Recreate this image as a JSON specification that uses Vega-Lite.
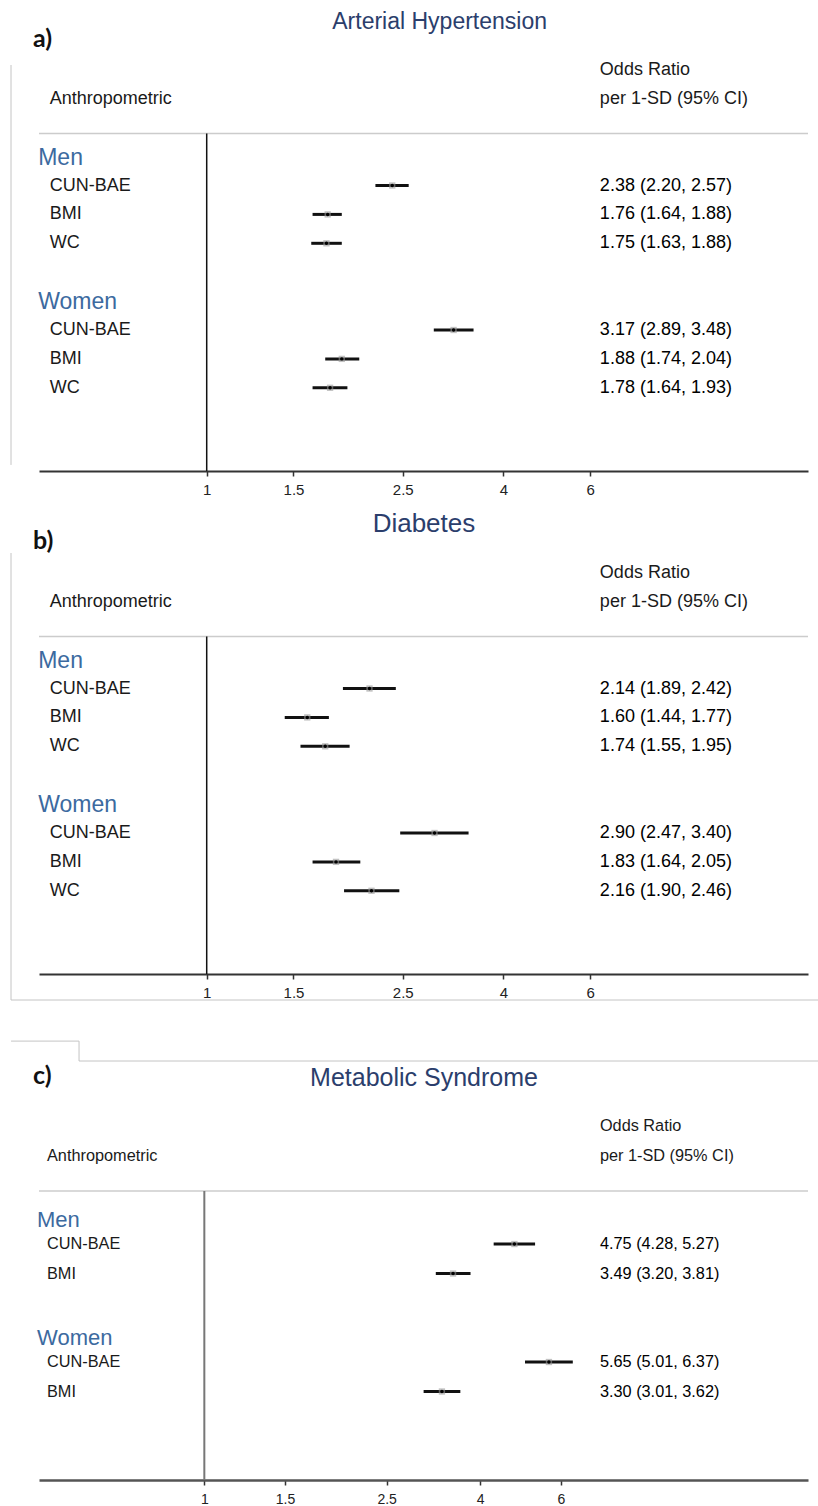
{
  "$schema": "https://vega.github.io/schema/vega-lite/v6.json",
  "background": "white",
  "padding": {"left": 10, "top": 0, "right": 0, "bottom": 0},
  "spacing": 32,
  "bounds": "flush",
  "config": {"view": {"stroke": null}, "font": "Liberation Sans"},
  "datasets": {
    "est": [
      {"panel": "a", "sex": "Men", "measure": "CUN-BAE", "row": 1, "or": 2.38, "lo": 2.20, "hi": 2.57, "ci": "2.38 (2.20, 2.57)"},
      {"panel": "a", "sex": "Men", "measure": "BMI", "row": 2, "or": 1.76, "lo": 1.64, "hi": 1.88, "ci": "1.76 (1.64, 1.88)"},
      {"panel": "a", "sex": "Men", "measure": "WC", "row": 3, "or": 1.75, "lo": 1.63, "hi": 1.88, "ci": "1.75 (1.63, 1.88)"},
      {"panel": "a", "sex": "Women", "measure": "CUN-BAE", "row": 6, "or": 3.17, "lo": 2.89, "hi": 3.48, "ci": "3.17 (2.89, 3.48)"},
      {"panel": "a", "sex": "Women", "measure": "BMI", "row": 7, "or": 1.88, "lo": 1.74, "hi": 2.04, "ci": "1.88 (1.74, 2.04)"},
      {"panel": "a", "sex": "Women", "measure": "WC", "row": 8, "or": 1.78, "lo": 1.64, "hi": 1.93, "ci": "1.78 (1.64, 1.93)"},
      {"panel": "b", "sex": "Men", "measure": "CUN-BAE", "row": 1, "or": 2.14, "lo": 1.89, "hi": 2.42, "ci": "2.14 (1.89, 2.42)"},
      {"panel": "b", "sex": "Men", "measure": "BMI", "row": 2, "or": 1.60, "lo": 1.44, "hi": 1.77, "ci": "1.60 (1.44, 1.77)"},
      {"panel": "b", "sex": "Men", "measure": "WC", "row": 3, "or": 1.74, "lo": 1.55, "hi": 1.95, "ci": "1.74 (1.55, 1.95)"},
      {"panel": "b", "sex": "Women", "measure": "CUN-BAE", "row": 6, "or": 2.90, "lo": 2.47, "hi": 3.40, "ci": "2.90 (2.47, 3.40)"},
      {"panel": "b", "sex": "Women", "measure": "BMI", "row": 7, "or": 1.83, "lo": 1.64, "hi": 2.05, "ci": "1.83 (1.64, 2.05)"},
      {"panel": "b", "sex": "Women", "measure": "WC", "row": 8, "or": 2.16, "lo": 1.90, "hi": 2.46, "ci": "2.16 (1.90, 2.46)"},
      {"panel": "c", "sex": "Men", "measure": "CUN-BAE", "row": 1, "or": 4.75, "lo": 4.28, "hi": 5.27, "ci": "4.75 (4.28, 5.27)"},
      {"panel": "c", "sex": "Men", "measure": "BMI", "row": 2, "or": 3.49, "lo": 3.20, "hi": 3.81, "ci": "3.49 (3.20, 3.81)"},
      {"panel": "c", "sex": "Women", "measure": "CUN-BAE", "row": 5, "or": 5.65, "lo": 5.01, "hi": 6.37, "ci": "5.65 (5.01, 6.37)"},
      {"panel": "c", "sex": "Women", "measure": "BMI", "row": 6, "or": 3.30, "lo": 3.01, "hi": 3.62, "ci": "3.30 (3.01, 3.62)"}
    ],
    "grp": [
      {"panel": "a", "group": "Men", "row": 0},
      {"panel": "a", "group": "Women", "row": 5},
      {"panel": "b", "group": "Men", "row": 0},
      {"panel": "b", "group": "Women", "row": 5},
      {"panel": "c", "group": "Men", "row": 0},
      {"panel": "c", "group": "Women", "row": 4}
    ]
  },
  "vconcat": [
    {
      "width": 769, "height": 471,
      "layer": [
        {"data": {"values": [{}]}, "mark": {"type": "rule", "color": "#cccccc", "strokeWidth": 1.5},
         "encoding": {"x": {"datum": 0.4567, "type": "quantitative", "scale": {"type": "log", "domain": [0.4567, 16.61], "nice": false}, "axis": {"values": [1, 1.5, 2.5, 4, 6], "format": "~g", "title": null, "grid": false, "domainColor": "#333333", "domainWidth": 2, "tickColor": "#333333", "tickSize": 5, "tickWidth": 1.5, "labelFontSize": 15, "labelPadding": 6, "labelColor": "#222222", "labelFont": "Liberation Sans", "labelFlush": false, "labelOverlap": false}},
                      "x2": {"datum": 16.61},
                      "y": {"datum": -0.8, "type": "quantitative", "scale": {"domain": [-5.42, 10.88], "reverse": true, "nice": false, "zero": false}, "axis": null}}},
        {"data": {"values": [{}]}, "mark": {"type": "rule", "color": "#c4c4c4", "strokeWidth": 1},
         "encoding": {"x": {"datum": 0.4007, "type": "quantitative"},
                      "y": {"datum": -3.17, "type": "quantitative"},
                      "y2": {"datum": 10.67}}},
        {"data": {"values": [{}]}, "mark": {"type": "rule", "color": "#111111", "strokeWidth": 1.5},
         "encoding": {"x": {"datum": 1, "type": "quantitative"},
                      "y": {"datum": -0.8, "type": "quantitative"},
                      "y2": {"datum": 10.88}}},
        {"data": {"name": "est"}, "transform": [{"filter": "datum.panel === 'a'"}],
         "mark": {"type": "rule", "color": "#111111", "strokeWidth": 3},
         "encoding": {"x": {"field": "lo", "type": "quantitative"}, "x2": {"field": "hi"}, "y": {"field": "row", "type": "quantitative"}}},
        {"data": {"name": "est"}, "transform": [{"filter": "datum.panel === 'a'"}],
         "mark": {"type": "point", "shape": "square", "filled": true, "color": "#999999", "opacity": 0.6, "size": 40},
         "encoding": {"x": {"field": "or", "type": "quantitative"}, "y": {"field": "row", "type": "quantitative"}}},
        {"data": {"name": "est"}, "transform": [{"filter": "datum.panel === 'a'"}],
         "mark": {"type": "point", "shape": "circle", "filled": true, "color": "#000000", "opacity": 1, "size": 12},
         "encoding": {"x": {"field": "or", "type": "quantitative"}, "y": {"field": "row", "type": "quantitative"}}},
        {"data": {"name": "est"}, "transform": [{"filter": "datum.panel === 'a'"}],
         "mark": {"type": "text", "align": "left", "baseline": "middle", "fontSize": 18, "color": "#1a1a1a"},
         "encoding": {"x": {"datum": 0.48, "type": "quantitative"}, "y": {"field": "row", "type": "quantitative"}, "text": {"field": "measure"}}},
        {"data": {"name": "est"}, "transform": [{"filter": "datum.panel === 'a'"}],
         "mark": {"type": "text", "align": "left", "baseline": "middle", "fontSize": 18, "color": "#000000"},
         "encoding": {"x": {"datum": 6.28, "type": "quantitative"}, "y": {"field": "row", "type": "quantitative"}, "text": {"field": "ci"}}},
        {"data": {"name": "grp"}, "transform": [{"filter": "datum.panel === 'a'"}],
         "mark": {"type": "text", "align": "left", "baseline": "middle", "fontSize": 23, "color": "#3c6a9f", "dy": 1},
         "encoding": {"x": {"datum": 0.455, "type": "quantitative"}, "y": {"field": "row", "type": "quantitative"}, "text": {"field": "group"}}},
        {"data": {"values": [{}]}, "mark": {"type": "text", "text": "Arterial Hypertension", "align": "center", "baseline": "middle", "fontSize": 23, "color": "#2b3e6c"},
         "encoding": {"x": {"datum": 2.97, "type": "quantitative"}, "y": {"datum": -4.66, "type": "quantitative"}}},
        {"data": {"values": [{}]}, "mark": {"type": "text", "text": "a)", "align": "left", "baseline": "middle", "fontSize": 25, "font": "Lato", "fontWeight": "bold", "color": "#111111"},
         "encoding": {"x": {"datum": 0.444, "type": "quantitative"}, "y": {"datum": -4.07, "type": "quantitative"}}},
        {"data": {"values": [{}]}, "mark": {"type": "text", "text": "Odds Ratio", "align": "left", "baseline": "middle", "fontSize": 18, "color": "#1a1a1a"},
         "encoding": {"x": {"datum": 6.28, "type": "quantitative"}, "y": {"datum": -3, "type": "quantitative"}}},
        {"data": {"values": [{}]}, "mark": {"type": "text", "text": "per 1-SD (95% CI)", "align": "left", "baseline": "middle", "fontSize": 18, "color": "#1a1a1a"},
         "encoding": {"x": {"datum": 6.28, "type": "quantitative"}, "y": {"datum": -2, "type": "quantitative"}}},
        {"data": {"values": [{}]}, "mark": {"type": "text", "text": "Anthropometric", "align": "left", "baseline": "middle", "fontSize": 18, "color": "#1a1a1a"},
         "encoding": {"x": {"datum": 0.48, "type": "quantitative"}, "y": {"datum": -2, "type": "quantitative"}}}
      ]
    },
    {
      "width": 769, "height": 471,
      "layer": [
        {"data": {"values": [{}]}, "mark": {"type": "rule", "color": "#cccccc", "strokeWidth": 1.5},
         "encoding": {"x": {"datum": 0.4567, "type": "quantitative", "scale": {"type": "log", "domain": [0.4567, 16.61], "nice": false}, "axis": {"values": [1, 1.5, 2.5, 4, 6], "format": "~g", "title": null, "grid": false, "domainColor": "#333333", "domainWidth": 2, "tickColor": "#333333", "tickSize": 5, "tickWidth": 1.5, "labelFontSize": 15, "labelPadding": 6, "labelColor": "#222222", "labelFont": "Liberation Sans", "labelFlush": false, "labelOverlap": false}},
                      "x2": {"datum": 16.61},
                      "y": {"datum": -0.8, "type": "quantitative", "scale": {"domain": [-5.42, 10.88], "reverse": true, "nice": false, "zero": false}, "axis": null}}},
        {"data": {"values": [{}]}, "mark": {"type": "rule", "color": "#c4c4c4", "strokeWidth": 1},
         "encoding": {"x": {"datum": 0.4007, "type": "quantitative"},
                      "y": {"datum": -3.69, "type": "quantitative"},
                      "y2": {"datum": 11.78}}},
        {"data": {"values": [{}]}, "mark": {"type": "rule", "color": "#c4c4c4", "strokeWidth": 1},
         "encoding": {"x": {"datum": 0.4007, "type": "quantitative"},
                      "x2": {"datum": 17.48},
                      "y": {"datum": 11.78, "type": "quantitative"}}},
        {"data": {"values": [{}]}, "mark": {"type": "rule", "color": "#111111", "strokeWidth": 1.5},
         "encoding": {"x": {"datum": 1, "type": "quantitative"},
                      "y": {"datum": -0.8, "type": "quantitative"},
                      "y2": {"datum": 10.88}}},
        {"data": {"name": "est"}, "transform": [{"filter": "datum.panel === 'b'"}],
         "mark": {"type": "rule", "color": "#111111", "strokeWidth": 3},
         "encoding": {"x": {"field": "lo", "type": "quantitative"}, "x2": {"field": "hi"}, "y": {"field": "row", "type": "quantitative"}}},
        {"data": {"name": "est"}, "transform": [{"filter": "datum.panel === 'b'"}],
         "mark": {"type": "point", "shape": "square", "filled": true, "color": "#999999", "opacity": 0.6, "size": 40},
         "encoding": {"x": {"field": "or", "type": "quantitative"}, "y": {"field": "row", "type": "quantitative"}}},
        {"data": {"name": "est"}, "transform": [{"filter": "datum.panel === 'b'"}],
         "mark": {"type": "point", "shape": "circle", "filled": true, "color": "#000000", "opacity": 1, "size": 12},
         "encoding": {"x": {"field": "or", "type": "quantitative"}, "y": {"field": "row", "type": "quantitative"}}},
        {"data": {"name": "est"}, "transform": [{"filter": "datum.panel === 'b'"}],
         "mark": {"type": "text", "align": "left", "baseline": "middle", "fontSize": 18, "color": "#1a1a1a"},
         "encoding": {"x": {"datum": 0.48, "type": "quantitative"}, "y": {"field": "row", "type": "quantitative"}, "text": {"field": "measure"}}},
        {"data": {"name": "est"}, "transform": [{"filter": "datum.panel === 'b'"}],
         "mark": {"type": "text", "align": "left", "baseline": "middle", "fontSize": 18, "color": "#000000"},
         "encoding": {"x": {"datum": 6.28, "type": "quantitative"}, "y": {"field": "row", "type": "quantitative"}, "text": {"field": "ci"}}},
        {"data": {"name": "grp"}, "transform": [{"filter": "datum.panel === 'b'"}],
         "mark": {"type": "text", "align": "left", "baseline": "middle", "fontSize": 23, "color": "#3c6a9f", "dy": 1},
         "encoding": {"x": {"datum": 0.455, "type": "quantitative"}, "y": {"field": "row", "type": "quantitative"}, "text": {"field": "group"}}},
        {"data": {"values": [{}]}, "mark": {"type": "text", "text": "Diabetes", "align": "center", "baseline": "middle", "fontSize": 26, "color": "#2b3e6c"},
         "encoding": {"x": {"datum": 2.76, "type": "quantitative"}, "y": {"datum": -4.69, "type": "quantitative"}}},
        {"data": {"values": [{}]}, "mark": {"type": "text", "text": "b)", "align": "left", "baseline": "middle", "fontSize": 25, "font": "Lato", "fontWeight": "bold", "color": "#111111"},
         "encoding": {"x": {"datum": 0.444, "type": "quantitative"}, "y": {"datum": -4.1, "type": "quantitative"}}},
        {"data": {"values": [{}]}, "mark": {"type": "text", "text": "Odds Ratio", "align": "left", "baseline": "middle", "fontSize": 18, "color": "#1a1a1a"},
         "encoding": {"x": {"datum": 6.28, "type": "quantitative"}, "y": {"datum": -3, "type": "quantitative"}}},
        {"data": {"values": [{}]}, "mark": {"type": "text", "text": "per 1-SD (95% CI)", "align": "left", "baseline": "middle", "fontSize": 18, "color": "#1a1a1a"},
         "encoding": {"x": {"datum": 6.28, "type": "quantitative"}, "y": {"datum": -2, "type": "quantitative"}}},
        {"data": {"values": [{}]}, "mark": {"type": "text", "text": "Anthropometric", "align": "left", "baseline": "middle", "fontSize": 18, "color": "#1a1a1a"},
         "encoding": {"x": {"datum": 0.48, "type": "quantitative"}, "y": {"datum": -2, "type": "quantitative"}}}
      ]
    },
    {
      "width": 769, "height": 474,
      "layer": [
        {"data": {"values": [{}]}, "mark": {"type": "rule", "color": "#cccccc", "strokeWidth": 1.5},
         "encoding": {"x": {"datum": 0.4357, "type": "quantitative", "scale": {"type": "log", "domain": [0.4357, 20.77], "nice": false}, "axis": {"values": [1, 1.5, 2.5, 4, 6], "format": "~g", "title": null, "grid": false, "domainColor": "#555555", "domainWidth": 2.5, "tickColor": "#333333", "tickSize": 5, "tickWidth": 1.5, "labelFontSize": 14, "labelPadding": 7, "labelColor": "#222222", "labelFont": "Liberation Sans", "labelFlush": false, "labelOverlap": false}},
                      "x2": {"datum": 20.77},
                      "y": {"datum": -0.8, "type": "quantitative", "scale": {"domain": [-7.07, 9.0], "reverse": true, "nice": false, "zero": false}, "axis": null}}},
        {"data": {"values": [{}]}, "mark": {"type": "rule", "color": "#c4c4c4", "strokeWidth": 1},
         "encoding": {"x": {"datum": 0.3786, "type": "quantitative"},
                      "x2": {"datum": 0.5328},
                      "y": {"datum": -5.88, "type": "quantitative"}}},
        {"data": {"values": [{}]}, "mark": {"type": "rule", "color": "#c4c4c4", "strokeWidth": 1},
         "encoding": {"x": {"datum": 0.5328, "type": "quantitative"},
                      "y": {"datum": -5.88, "type": "quantitative"},
                      "y2": {"datum": -5.205}}},
        {"data": {"values": [{}]}, "mark": {"type": "rule", "color": "#c4c4c4", "strokeWidth": 1},
         "encoding": {"x": {"datum": 0.5328, "type": "quantitative"},
                      "x2": {"datum": 21.95},
                      "y": {"datum": -5.205, "type": "quantitative"}}},
        {"data": {"values": [{}]}, "mark": {"type": "rule", "color": "#777777", "strokeWidth": 2},
         "encoding": {"x": {"datum": 1, "type": "quantitative"},
                      "y": {"datum": -0.8, "type": "quantitative"},
                      "y2": {"datum": 9.0}}},
        {"data": {"name": "est"}, "transform": [{"filter": "datum.panel === 'c'"}],
         "mark": {"type": "rule", "color": "#111111", "strokeWidth": 3},
         "encoding": {"x": {"field": "lo", "type": "quantitative"}, "x2": {"field": "hi"}, "y": {"field": "row", "type": "quantitative"}}},
        {"data": {"name": "est"}, "transform": [{"filter": "datum.panel === 'c'"}],
         "mark": {"type": "point", "shape": "square", "filled": true, "color": "#999999", "opacity": 0.6, "size": 40},
         "encoding": {"x": {"field": "or", "type": "quantitative"}, "y": {"field": "row", "type": "quantitative"}}},
        {"data": {"name": "est"}, "transform": [{"filter": "datum.panel === 'c'"}],
         "mark": {"type": "point", "shape": "circle", "filled": true, "color": "#000000", "opacity": 1, "size": 12},
         "encoding": {"x": {"field": "or", "type": "quantitative"}, "y": {"field": "row", "type": "quantitative"}}},
        {"data": {"name": "est"}, "transform": [{"filter": "datum.panel === 'c'"}],
         "mark": {"type": "text", "align": "left", "baseline": "middle", "fontSize": 16.3, "color": "#1a1a1a"},
         "encoding": {"x": {"datum": 0.4536, "type": "quantitative"}, "y": {"field": "row", "type": "quantitative"}, "text": {"field": "measure"}}},
        {"data": {"name": "est"}, "transform": [{"filter": "datum.panel === 'c'"}],
         "mark": {"type": "text", "align": "left", "baseline": "middle", "fontSize": 16.3, "color": "#000000"},
         "encoding": {"x": {"datum": 7.3, "type": "quantitative"}, "y": {"field": "row", "type": "quantitative"}, "text": {"field": "ci"}}},
        {"data": {"name": "grp"}, "transform": [{"filter": "datum.panel === 'c'"}],
         "mark": {"type": "text", "align": "left", "baseline": "middle", "fontSize": 22, "color": "#3c6a9f", "dy": 5},
         "encoding": {"x": {"datum": 0.4314, "type": "quantitative"}, "y": {"field": "row", "type": "quantitative"}, "text": {"field": "group"}}},
        {"data": {"values": [{}]}, "mark": {"type": "text", "text": "Metabolic Syndrome", "align": "center", "baseline": "middle", "fontSize": 25, "color": "#2b3e6c"},
         "encoding": {"x": {"datum": 3.016, "type": "quantitative"}, "y": {"datum": -4.63, "type": "quantitative"}}},
        {"data": {"values": [{}]}, "mark": {"type": "text", "text": "c)", "align": "left", "baseline": "middle", "fontSize": 25, "font": "Lato", "fontWeight": "bold", "color": "#111111"},
         "encoding": {"x": {"datum": 0.4228, "type": "quantitative"}, "y": {"datum": -4.7, "type": "quantitative"}}},
        {"data": {"values": [{}]}, "mark": {"type": "text", "text": "Odds Ratio", "align": "left", "baseline": "middle", "fontSize": 16.3, "color": "#1a1a1a"},
         "encoding": {"x": {"datum": 7.3, "type": "quantitative"}, "y": {"datum": -3, "type": "quantitative"}}},
        {"data": {"values": [{}]}, "mark": {"type": "text", "text": "per 1-SD (95% CI)", "align": "left", "baseline": "middle", "fontSize": 16.3, "color": "#1a1a1a"},
         "encoding": {"x": {"datum": 7.3, "type": "quantitative"}, "y": {"datum": -2.0, "type": "quantitative"}}},
        {"data": {"values": [{}]}, "mark": {"type": "text", "text": "Anthropometric", "align": "left", "baseline": "middle", "fontSize": 16.3, "color": "#1a1a1a"},
         "encoding": {"x": {"datum": 0.4536, "type": "quantitative"}, "y": {"datum": -2.0, "type": "quantitative"}}}
      ]
    }
  ]
}
